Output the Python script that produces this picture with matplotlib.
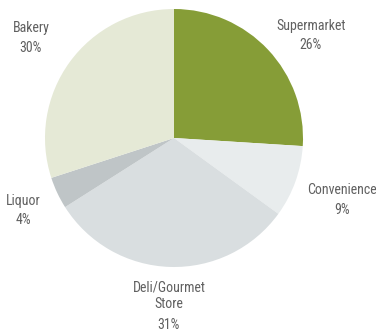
import matplotlib
matplotlib.use("Agg")
import matplotlib.pyplot as plt

categories = ["Supermarket", "Convenience", "Deli/Gourmet\nStore", "Liquor", "Bakery"]
shares = [26, 9, 31, 4, 30]
colors = ["#869d37", "#e8eced", "#d9dee0", "#bfc5c7", "#e5e9d6"]

# label line centres in pixels from the top: (x, name line ys, pct y)
label_pos = [
    (311, [26], 45),
    (342, [190], 210),
    (169, [287, 304], 325),
    (23, [201], 220),
    (31, [28], 48),
]

W, H = 376, 333
fig = plt.figure(figsize=(W / 100, H / 100), dpi=100)
ax = fig.add_axes([0, 0, 1, 1])
ax.pie(shares, colors=colors, startangle=90, counterclock=False,
       center=(174, H - 138), radius=129,
       wedgeprops=dict(linewidth=0, edgecolor="none"))
ax.set_xlim(0, W)
ax.set_ylim(0, H)
ax.set_aspect("auto")
ax.axis("off")

font = dict(fontsize=10, color="#606060", family=["Roboto Condensed", "DejaVu Sans"],
            ha="center", va="center")
for name, val, (x, ys, py) in zip(categories, shares, label_pos):
    for line, y in zip(name.split("\n"), ys):
        ax.text(x, H - y, line, **font)
    ax.text(x, H - py, f"{val}%", **font)

fig.savefig("out.png", dpi=100)
